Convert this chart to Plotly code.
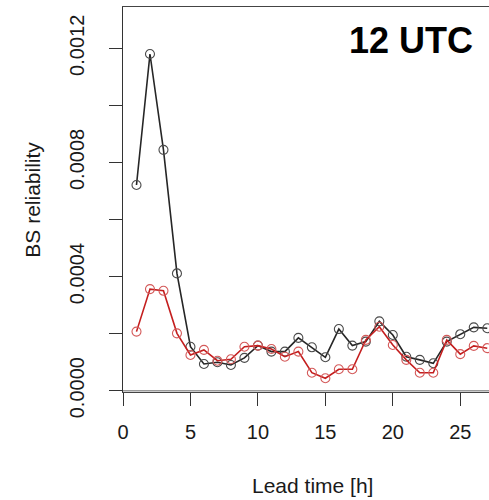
import plotly.graph_objects as go

lead_time = list(range(1, 28))
bs_black = [0.000721, 0.00118, 0.000844, 0.000411, 0.000154, 0.0000936, 0.0000995, 0.00009,
            0.000115, 0.000158, 0.000137, 0.000137, 0.000185, 0.000152, 0.000117, 0.000216,
            0.000158, 0.000172, 0.000243, 0.000195, 0.000119, 0.000108, 0.000096, 0.000172,
            0.000198, 0.000222, 0.000219]
bs_red = [0.000207, 0.000356, 0.00035, 0.000201, 0.000125, 0.000143, 0.000105, 0.00011,
          0.000154, 0.000158, 0.000146, 0.000119, 0.000137, 0.000063, 0.0000435, 0.000075,
          0.000075, 0.000178, 0.000224, 0.00016, 0.000108, 0.000063, 0.000063, 0.000178,
          0.000128, 0.000157, 0.000149]

x_ticks = [0, 5, 10, 15, 20, 25]
y_ticks = [0.0, 0.0002, 0.0004, 0.0006, 0.0008, 0.0010, 0.0012]
y_ticktext = ["0.0000", "", "0.0004", "", "0.0008", "", "0.0012"]

FONT = "Liberation Sans, Arial, Helvetica, sans-serif"

fig = go.Figure()
fig.add_trace(go.Scatter(
    x=lead_time, y=bs_black, mode="lines+markers",
    line=dict(color="#262626", width=1.6),
    marker=dict(symbol="circle-open", size=9, color="#4a4a4a", line=dict(width=1.1)),
    showlegend=False, cliponaxis=False))
fig.add_trace(go.Scatter(
    x=lead_time, y=bs_red, mode="lines+markers",
    line=dict(color="#c41e1e", width=1.6),
    marker=dict(symbol="circle-open", size=9, color="#d45a5a", line=dict(width=1.1)),
    showlegend=False, cliponaxis=False))

fig.add_shape(type="line", xref="paper", yref="y", x0=0, x1=1, y0=0, y1=0,
              line=dict(color="#9a9a9a", width=1.5), layer="above")

fig.update_layout(
    width=489, height=500,
    margin=dict(l=123, r=0, t=7, b=108, pad=0),
    paper_bgcolor="white", plot_bgcolor="white",
    font=dict(family=FONT, color="#1a1a1a", size=20),
    xaxis=dict(range=[0, 27.13], tickvals=x_ticks, ticks="outside", ticklen=13,
               tickcolor="#333", tickwidth=1.2, showgrid=False, zeroline=False,
               showline=True, linecolor="#444", linewidth=1.2, mirror=True,
               tickfont=dict(size=20, family=FONT), ticklabelstandoff=9),
    yaxis=dict(range=[-0.0000046, 0.0013447], tickvals=y_ticks, ticktext=y_ticktext,
               ticks="outside", ticklen=13, tickcolor="#333", tickwidth=1.2,
               showgrid=False, zeroline=False, showline=True, linecolor="#333",
               linewidth=1.2, mirror=False, tickangle=-90,
               tickfont=dict(size=20, family=FONT), ticklabelstandoff=17),
    annotations=[
        dict(text="<b>12 UTC</b>", xref="paper", yref="paper", x=0.9617, y=0.914,
             xanchor="right", yanchor="middle", showarrow=False,
             font=dict(size=36, family=FONT, color="black")),
        dict(text="BS reliability", xref="paper", yref="paper", x=-0.2495, y=0.4987,
             xanchor="center", yanchor="middle", textangle=-90, showarrow=False,
             font=dict(size=21, family=FONT, color="#1a1a1a")),
        dict(text="Lead time [h]", xref="paper", yref="paper", x=0.5164, y=-0.244,
             xanchor="center", yanchor="middle", showarrow=False,
             font=dict(size=21, family=FONT, color="#1a1a1a")),
    ],
)

fig.write_html("out.html", config={"displayModeBar": False},
               post_script="document.body.style.margin='0';document.body.style.overflow='hidden';")
